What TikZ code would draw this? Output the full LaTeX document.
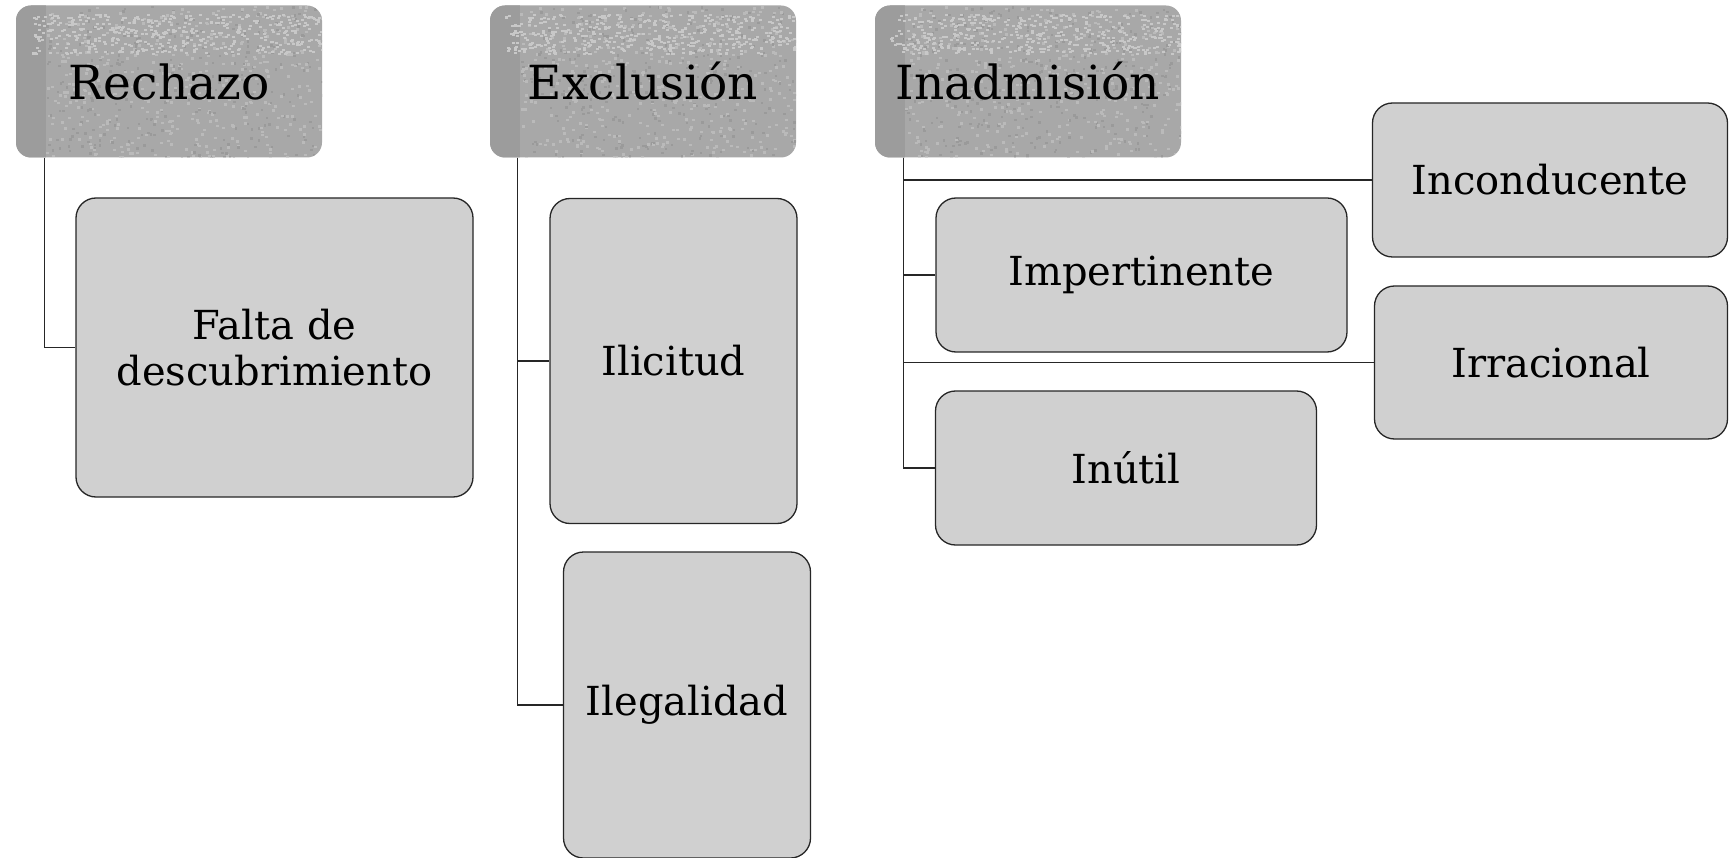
\documentclass[tikz,border=0pt]{standalone}
\usepackage{fontspec}
\setmainfont{DejaVu Serif}
\usetikzlibrary{calc}
\definecolor{boxfill}{HTML}{D0D0D0}
\definecolor{hdrfill}{HTML}{A8A8A8}
\definecolor{hdrdark}{HTML}{9C9C9C}
\definecolor{speckL}{HTML}{BABABA}
\definecolor{speckLL}{HTML}{C8C8C8}
\definecolor{speckD}{HTML}{9A9A9A}
\tikzset{
  hdrbox/.style={rectangle, rounded corners=15pt, fill=hdrfill, inner sep=0pt,
    minimum width=306pt, minimum height=152pt,
    font=\fontsize{47}{54}\selectfont,
    path picture={
      \begin{scope}[sharp corners]
      \coordinate (nw) at (path picture bounding box.north west);
      \fill[hdrdark] (nw) rectangle ++(30,160);
      \foreach \i in {1,...,700}{
        \pgfmathsetmacro\rx{30+rnd*276}
        \pgfmathsetmacro\ry{rnd*152}
        \pgfmathsetmacro\rc{rnd}
        \ifdim\rc pt<0.6pt
          \fill[speckL] ([shift={(\rx,\ry)}]nw) rectangle ++(3,2.5);
        \else
          \fill[speckD] ([shift={(\rx,\ry)}]nw) rectangle ++(2.5,2.5);
        \fi
      }
      \foreach \i in {1,...,450}{
        \pgfmathsetmacro\rx{15+rnd*291}
        \pgfmathsetmacro\ry{8+rnd*40}
        \fill[speckLL] ([shift={(\rx,\ry)}]nw) rectangle ++(3,2);
      }
      \end{scope}
    }},
  childbox/.style={rectangle, rounded corners=20pt, draw=black!85, line width=1.3pt,
    fill=boxfill, inner sep=0pt, align=center,
    font=\fontsize{40}{46}\selectfont},
  conn/.style={draw=black!85, line width=1.3pt}
}
\begin{document}
\begin{tikzpicture}[x=1pt,y=-1pt]
\pgfmathsetseed{7}
\useasboundingbox (0,0) rectangle (1729,858);
% headers
\node[hdrbox] (rech) at (169,81.5) {Rechazo};
\node[hdrbox] (excl) at (643,81.5) {Exclusión};
\node[hdrbox] (inad) at (1028,81.5) {Inadmisión};
% children
\node[childbox, minimum width=397pt, minimum height=299pt] (falta) at (274.5,347.5) {Falta de\\descubrimiento};
\node[childbox, minimum width=247pt, minimum height=325pt] (ilic) at (673.5,361) {Ilicitud};
\node[childbox, minimum width=247pt, minimum height=306pt] (ileg) at (687,705) {Ilegalidad};
\node[childbox, minimum width=411pt, minimum height=154pt] (imper) at (1141.5,275) {Impertinente};
\node[childbox, minimum width=381pt, minimum height=154pt] (inutil) at (1126,468) {Inútil};
\node[childbox, minimum width=355pt, minimum height=154pt] (incond) at (1550,180) {Inconducente};
\node[childbox, minimum width=353pt, minimum height=153pt] (irrac) at (1551,362.5) {Irracional};
% connectors
\draw[conn] ([xshift=28.5pt]rech.south west) |- (falta.west);
\draw[conn] ([xshift=28pt]excl.south west) |- (ilic.west);
\draw[conn] ([xshift=28pt]excl.south west) |- (ileg.west);
\draw[conn] ([xshift=29pt]inad.south west) |- (incond.west);
\draw[conn] ([xshift=29pt]inad.south west) |- (imper.west);
\draw[conn] ([xshift=29pt]inad.south west) |- (irrac.west);
\draw[conn] ([xshift=29pt]inad.south west) |- (inutil.west);
\end{tikzpicture}
\end{document}
